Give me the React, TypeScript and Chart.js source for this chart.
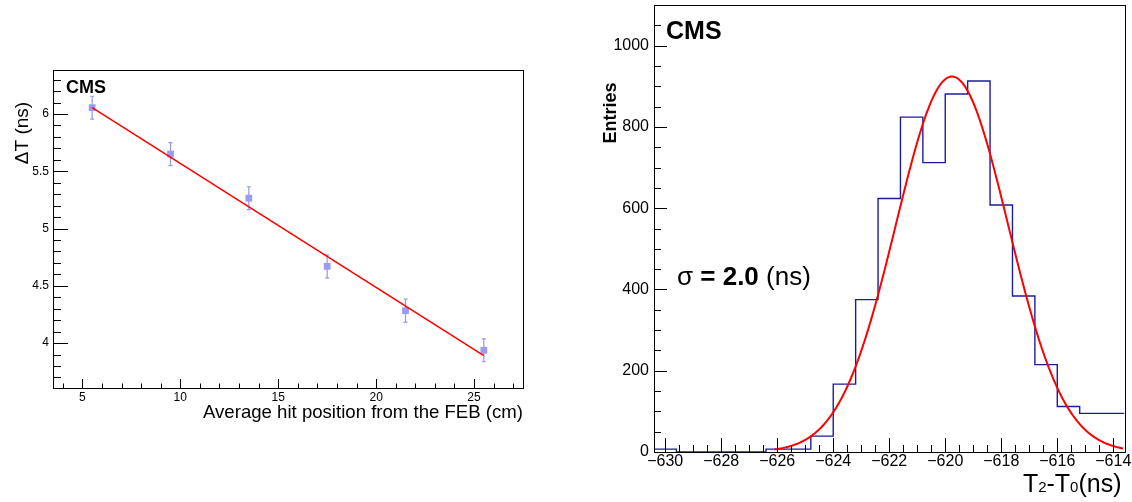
import React, { useEffect, useRef } from 'react';
import { Chart, registerables } from 'chart.js';

Chart.register(...registerables);

const FONT = '"Liberation Sans", Arial, Helvetica, sans-serif';

// ---------- Left panel data ----------
const hitPosition = [5.5, 9.5, 13.5, 17.5, 21.5, 25.5];
const deltaT = [6.055, 5.65, 5.265, 4.67, 4.283, 3.937];
const deltaTErr = [0.1, 0.1, 0.1, 0.1, 0.1, 0.1];
const fitLineX = [5.5, 25.5];
const fitLineY = [6.055, 3.89];
const leftXTicks = [5, 10, 15, 20, 25];
const leftYTicks = [4, 4.5, 5, 5.5, 6];

// ---------- Right panel data ----------
const histEdges = [
  -630.4, -629.6, -628.8, -628.0, -627.2, -626.4, -625.6, -624.8, -624.0, -623.2, -622.4,
  -621.6, -620.8, -620.0, -619.2, -618.4, -617.6, -616.8, -616.0, -615.2, -614.4, -613.6,
];
const histCounts = [7, 0, 0, 0, 0, 7, 7, 39, 167, 375, 624, 824, 712, 881, 913, 608, 384, 215, 112, 95, 95];
// Gaussian fit parameters (amplitude, mean, sigma) and drawn range
const fitAmplitude = 924;
const fitMean = -619.76;
const fitSigma = 2.0;
const fitRange = [-626.1, -613.65];
const rightXTicks = [-630, -628, -626, -624, -622, -620, -618, -616, -614];
const rightYTicks = [0, 200, 400, 600, 800, 1000];

function range(a: number, b: number, step: number): number[] {
  const out: number[] = [];
  const n = Math.round((b - a) / step);
  for (let i = 0; i <= n; i++) out.push(Math.round((a + i * step) * 1000) / 1000);
  return out;
}

type TickSpec = { axis: string; major: number[]; minor: number[]; majorLen: number; minorLen: number };

function framePlugin(id: string, specs: TickSpec[], extra: (ctx: CanvasRenderingContext2D, chart: any) => void, errBars?: boolean) {
  return {
    id,
    beforeDatasetsDraw(chart: any) {
      if (!errBars) return;
      const { ctx, scales } = chart;
      ctx.save();
      ctx.strokeStyle = 'rgb(150,150,240)';
      ctx.lineWidth = 1.2;
      ctx.beginPath();
      hitPosition.forEach((x, i) => {
        const px = scales.x.getPixelForValue(x);
        const y1 = scales.y.getPixelForValue(deltaT[i] + deltaTErr[i]);
        const y2 = scales.y.getPixelForValue(deltaT[i] - deltaTErr[i]);
        ctx.moveTo(px, y1);
        ctx.lineTo(px, y2);
        ctx.moveTo(px - 2, y1);
        ctx.lineTo(px + 2, y1);
        ctx.moveTo(px - 2, y2);
        ctx.lineTo(px + 2, y2);
      });
      ctx.stroke();
      ctx.restore();
    },
    afterDatasetsDraw(chart: any) {
      const { ctx, chartArea: a, scales } = chart;
      ctx.save();
      ctx.strokeStyle = '#000';
      ctx.lineWidth = 1;
      ctx.beginPath();
      for (const t of specs) {
        const s = scales[t.axis];
        const draw = (v: number, len: number) => {
          const p = Math.round(s.getPixelForValue(v)) + 0.5;
          if (t.axis === 'x') {
            if (p < a.left || p > a.right) return;
            ctx.moveTo(p, a.bottom);
            ctx.lineTo(p, a.bottom - len);
          } else {
            if (p < a.top || p > a.bottom) return;
            ctx.moveTo(a.left, p);
            ctx.lineTo(a.left + len, p);
          }
        };
        t.major.forEach((v) => draw(v, t.majorLen));
        t.minor.forEach((v) => draw(v, t.minorLen));
      }
      ctx.stroke();
      ctx.strokeRect(Math.round(a.left) + 0.5, Math.round(a.top) + 0.5, Math.round(a.right - a.left), Math.round(a.bottom - a.top));
      ctx.restore();
    },
    afterDraw(chart: any) {
      const ctx = chart.ctx as CanvasRenderingContext2D;
      ctx.save();
      extra(ctx, chart);
      ctx.restore();
    },
  };
}

function fixedScale(ticks: number[], size: number, fmt: (v: number) => string, fontSize: number, pad: number, horizontal: boolean) {
  return {
    type: 'linear' as const,
    grid: { display: false, drawTicks: false },
    border: { display: false },
    ticks: {
      font: { family: FONT, size: fontSize },
      color: '#000',
      padding: pad,
      maxRotation: 0,
      autoSkip: false,
      callback: (v: any) => fmt(Number(v)),
    },
    afterBuildTicks: (scale: any) => {
      scale.ticks = ticks.map((v) => ({ value: v }));
    },
    afterFit: (scale: any) => {
      if (horizontal) scale.height = size;
      else scale.width = size;
      scale.paddingLeft = 0;
      scale.paddingRight = 0;
      scale.paddingTop = 0;
      scale.paddingBottom = 0;
    },
  };
}

const minus = (v: number) => (v < 0 ? '\u2212' + Math.abs(v) : String(v));

export default function App() {
  const leftRef = useRef<HTMLCanvasElement>(null);
  const rightRef = useRef<HTMLCanvasElement>(null);

  useEffect(() => {
    document.body.style.margin = '0';

    // ---------------- Left chart ----------------
    const leftPlugin = framePlugin(
      'leftFrame',
      [
        { axis: 'y', major: leftYTicks, minor: range(3.7, 6.3, 0.1), majorLen: 15, minorLen: 8 },
        { axis: 'x', major: leftXTicks, minor: range(4, 27, 1), majorLen: 9, minorLen: 4.5 },
      ],
      (ctx, chart) => {
        const a = chart.chartArea;
        ctx.fillStyle = '#000';
        ctx.font = `bold 18px ${FONT}`;
        ctx.textBaseline = 'alphabetic';
        ctx.textAlign = 'left';
        ctx.fillText('CMS', 66, 93);
        ctx.font = `18.6px ${FONT}`;
        ctx.textAlign = 'right';
        ctx.fillText('Average hit position from the FEB (cm)', a.right, 418);
        ctx.save();
        ctx.translate(28, 133);
        ctx.rotate(-Math.PI / 2);
        ctx.font = `19px ${FONT}`;
        ctx.textAlign = 'center';
        ctx.fillText('\u0394T (ns)', 0, 0);
        ctx.restore();
      },
      true,
    );

    const left = new Chart(leftRef.current!, {
      type: 'scatter',
      data: {
        datasets: [
          {
            type: 'line',
            data: fitLineX.map((x, i) => ({ x, y: fitLineY[i] })),
            borderColor: '#ff0000',
            borderWidth: 1.6,
            pointRadius: 0,
            fill: false,
          },
          {
            type: 'scatter',
            data: hitPosition.map((x, i) => ({ x, y: deltaT[i] })),
            pointStyle: 'rect',
            pointRadius: 4.8,
            backgroundColor: 'rgb(155,155,242)',
            borderWidth: 0,
          },
        ],
      } as any,
      options: {
        animation: false,
        responsive: false,
        maintainAspectRatio: false,
        layout: { padding: { top: 70, right: 57, left: 0, bottom: 0 } },
        plugins: { legend: { display: false }, tooltip: { enabled: false } },
        scales: {
          x: { ...fixedScale(leftXTicks, 114, (v) => String(v), 12, 2, true), min: 3.5, max: 27.5 },
          y: { ...fixedScale(leftYTicks, 53, (v) => String(v), 12, 4, false), min: 3.608, max: 6.384 },
        },
      } as any,
      plugins: [leftPlugin as any],
    });

    // ---------------- Right chart ----------------
    const histPoints = histCounts.map((c, i) => ({ x: histEdges[i], y: c }));
    histPoints.push({ x: histEdges[histEdges.length - 1], y: histCounts[histCounts.length - 1] });

    const gaussPoints: { x: number; y: number }[] = [];
    const nG = 300;
    for (let i = 0; i <= nG; i++) {
      const x = fitRange[0] + ((fitRange[1] - fitRange[0]) * i) / nG;
      const z = (x - fitMean) / fitSigma;
      gaussPoints.push({ x, y: fitAmplitude * Math.exp(-0.5 * z * z) });
    }

    const rightPlugin = framePlugin(
      'rightFrame',
      [
        { axis: 'y', major: rightYTicks, minor: range(50, 1050, 50), majorLen: 13, minorLen: 7 },
        { axis: 'x', major: rightXTicks, minor: range(-630, -614, 0.5), majorLen: 14, minorLen: 7 },
      ],
      (ctx, chart) => {
        const a = chart.chartArea;
        ctx.fillStyle = '#000';
        ctx.textBaseline = 'alphabetic';
        ctx.textAlign = 'left';
        ctx.font = `bold 25px ${FONT}`;
        ctx.fillText('CMS', 86, 39);

        // sigma label
        let x = 97;
        const yb = 285;
        ctx.font = `26px ${FONT}`;
        ctx.fillText('\u03C3', x, yb);
        x += ctx.measureText('\u03C3').width;
        ctx.font = `bold 26px ${FONT}`;
        ctx.fillText(' = 2.0', x, yb);
        x += ctx.measureText(' = 2.0').width;
        ctx.font = `26px ${FONT}`;
        ctx.fillText(' (ns)', x, yb);

        // x title T2-T0(ns)
        const big = `25px ${FONT}`;
        const small = `15px ${FONT}`;
        const parts: [string, string][] = [
          ['T', big],
          ['2', small],
          ['-T', big],
          ['0', small],
          ['(ns)', big],
        ];
        let total = 0;
        parts.forEach(([t, f]) => {
          ctx.font = f;
          total += ctx.measureText(t).width;
        });
        let px = a.right - 3 - total;
        parts.forEach(([t, f]) => {
          ctx.font = f;
          ctx.fillText(t, px, 492);
          px += ctx.measureText(t).width;
        });

        // y title
        ctx.save();
        ctx.translate(36, 113);
        ctx.rotate(-Math.PI / 2);
        ctx.font = `bold 18px ${FONT}`;
        ctx.textAlign = 'center';
        ctx.fillText('Entries', 0, 0);
        ctx.restore();
      },
    );

    const right = new Chart(rightRef.current!, {
      type: 'line',
      data: {
        datasets: [
          {
            data: gaussPoints,
            borderColor: '#ff0000',
            borderWidth: 2,
            pointRadius: 0,
            fill: false,
            tension: 0,
          },
          {
            data: histPoints,
            stepped: 'before',
            borderColor: 'rgb(28,28,160)',
            borderWidth: 1.4,
            pointRadius: 0,
            fill: false,
          },
        ],
      } as any,
      options: {
        animation: false,
        responsive: false,
        maintainAspectRatio: false,
        layout: { padding: { top: 5, right: 7.5, left: 0, bottom: 0 } },
        plugins: { legend: { display: false }, tooltip: { enabled: false } },
        scales: {
          x: { ...fixedScale(rightXTicks, 50, minus, 16, 0, true), min: -630.4, max: -613.6 },
          y: { ...fixedScale(rightYTicks, 74, (v) => String(v), 16, 5, false), min: 0, max: 1100 },
        },
      } as any,
      plugins: [rightPlugin as any],
    });

    return () => {
      left.destroy();
      right.destroy();
    };
  }, []);

  return (
    <div style={{ position: 'absolute', left: 0, top: 0, width: 1132, height: 502, background: '#fff' }}>
      <canvas ref={leftRef} width={580} height={502} style={{ position: 'absolute', left: 0, top: 0, width: 580, height: 502 }} />
      <canvas ref={rightRef} width={552} height={502} style={{ position: 'absolute', left: 580, top: 0, width: 552, height: 502 }} />
    </div>
  );
}
